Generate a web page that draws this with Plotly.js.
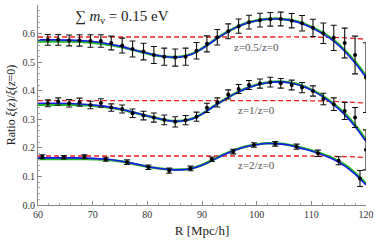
<!DOCTYPE html>
<html><head><meta charset="utf-8">
<script src="https://cdn.plot.ly/plotly-3.0.1.min.js"></script>
<style>html,body{margin:0;padding:0;background:#fff}#c{width:374px;height:244px}</style>
</head><body><div id="c"></div>
<script>
// Data points (z=0.5 and z=1 share the same R bins)
const rBins = [61.8,63.7,65.7,67.6,69.6,71.5,73.4,75.4,77.3,79.3,81.2,83.1,85.1,87.0,89.0,90.9,92.8,94.8,96.7,98.6,100.6,102.5,104.4,106.4,108.3,110.3,112.2,114.1,116.1,118.0,120.0];
const ratioZ05 = [0.578,0.578,0.576,0.576,0.574,0.574,0.567,0.558,0.546,0.537,0.525,0.519,0.516,0.519,0.540,0.564,0.587,0.608,0.626,0.640,0.647,0.650,0.651,0.645,0.636,0.620,0.601,0.585,0.567,0.525,0.446];
const errZ05 = [0.019,0.019,0.019,0.020,0.022,0.022,0.024,0.026,0.028,0.029,0.030,0.030,0.030,0.030,0.029,0.028,0.027,0.026,0.025,0.024,0.024,0.024,0.024,0.025,0.027,0.030,0.036,0.044,0.052,0.066,0.122];
const ratioZ1 = [0.356,0.362,0.356,0.360,0.350,0.357,0.341,0.336,0.321,0.313,0.306,0.298,0.291,0.297,0.309,0.340,0.359,0.387,0.406,0.420,0.425,0.430,0.426,0.420,0.411,0.399,0.371,0.353,0.329,0.306,0.193];
const errZ1 = [0.012,0.013,0.013,0.014,0.013,0.015,0.013,0.014,0.015,0.015,0.016,0.017,0.018,0.016,0.016,0.016,0.016,0.016,0.016,0.016,0.016,0.017,0.017,0.017,0.018,0.018,0.020,0.022,0.030,0.035,0.070];
const rBinsZ2 = [60.8,64.7,68.5,72.4,76.3,80.2,84.0,87.9,91.8,95.7,99.5,103.4,107.3,111.2,115.0,118.9];
const ratioZ2 = [0.169,0.167,0.169,0.160,0.150,0.132,0.120,0.128,0.160,0.187,0.210,0.214,0.204,0.181,0.155,0.093];
const errZ2 = [0.007,0.006,0.007,0.007,0.008,0.008,0.009,0.008,0.008,0.008,0.008,0.008,0.009,0.011,0.014,0.028];

// Model curves
const rModel = [60,63,66,69,72,75,78,81,84,86,88,90,92,94,96,98,100,102,104,106,108,110,112,114,116,118,120];
const blueZ05 = [0.578,0.578,0.577,0.574,0.567,0.556,0.541,0.527,0.518,0.518,0.527,0.547,0.573,0.598,0.619,0.635,0.645,0.650,0.651,0.647,0.637,0.621,0.600,0.575,0.540,0.497,0.447];
const greenZ05 = [0.572,0.572,0.572,0.570,0.564,0.554,0.540,0.526,0.518,0.519,0.528,0.548,0.574,0.599,0.620,0.636,0.646,0.651,0.652,0.648,0.639,0.623,0.603,0.578,0.544,0.502,0.452];
const blueZ1 = [0.356,0.356,0.355,0.352,0.346,0.336,0.322,0.307,0.295,0.293,0.300,0.318,0.343,0.367,0.389,0.407,0.420,0.428,0.431,0.428,0.418,0.402,0.380,0.352,0.318,0.275,0.222];
const greenZ1 = [0.351,0.351,0.351,0.349,0.344,0.335,0.321,0.307,0.295,0.294,0.301,0.319,0.344,0.368,0.390,0.408,0.421,0.429,0.432,0.429,0.420,0.404,0.383,0.355,0.322,0.280,0.227];
const blueZ2 = [0.165,0.165,0.165,0.164,0.161,0.154,0.143,0.131,0.124,0.123,0.127,0.139,0.157,0.176,0.192,0.204,0.211,0.215,0.214,0.209,0.199,0.189,0.176,0.160,0.138,0.108,0.070];
const greenZ2 = [0.161,0.161,0.161,0.161,0.159,0.153,0.142,0.131,0.124,0.124,0.128,0.140,0.158,0.177,0.193,0.205,0.212,0.216,0.215,0.210,0.201,0.191,0.179,0.163,0.142,0.112,0.075];

// Reference (dashed) lines
const rRef = [60,100,108,112,115,117,119.5];
const refZ05 = [0.588,0.588,0.588,0.587,0.586,0.584,0.581];
const refZ1 = [0.365,0.365,0.365,0.364,0.362,0.360,0.357];
const refZ2 = [0.1715,0.1715,0.1715,0.171,0.170,0.169,0.167];

const labels = ["z=0.5/z=0","z=1/z=0","z=2/z=0"];
const labelX = [100,100,100];
const labelY = [0.553,0.333,0.14];

const F = "Liberation Serif";
const traces = [];
const groups = [
  [rBins, ratioZ05, errZ05, blueZ05, greenZ05, refZ05],
  [rBins, ratioZ1, errZ1, blueZ1, greenZ1, refZ1],
  [rBinsZ2, ratioZ2, errZ2, blueZ2, greenZ2, refZ2]
];
groups.forEach(g => {
  traces.push({x: rRef, y: g[5], mode:'lines', line:{color:'#ee1c1c', width:1.3, dash:'5px,3px', shape:'spline'}, hoverinfo:'skip'});
  traces.push({x: rModel, y: g[4], mode:'lines', line:{color:'#22bb22', width:2.6, shape:'spline'}, hoverinfo:'skip'});
  traces.push({x: rModel, y: g[3], mode:'lines', line:{color:'#1a1aee', width:1.6, shape:'spline'}, hoverinfo:'skip'});
  traces.push({x: g[0], y: g[1], mode:'markers', marker:{color:'#000', size:4},
    error_y:{type:'data', array:g[2], visible:true, color:'#111', thickness:1.1, width:3}});
});

const annotations = [{
  x: 75.3, y: 1, xref:'x', yref:'paper', xanchor:'center', yanchor:'top', yshift:-1,
  text:'∑ <i>m</i><sub>ν</sub> = 0.15 eV', showarrow:false, font:{family:F, size:15, color:'#222'}
}];
labels.forEach((t,i) => annotations.push({x:labelX[i], y:labelY[i], xref:'x', yref:'y', text:t, showarrow:false, xanchor:'center', yanchor:'middle', font:{family:F, size:11, color:'#555'}}));

const layout = {
  width:374, height:244, margin:{l:38, r:8, t:5, b:39},
  paper_bgcolor:'#fff', plot_bgcolor:'#fff', showlegend:false,
  font:{family:F, size:10, color:'#333'},
  xaxis:{range:[60,120], dtick:10, tick0:60, ticks:'inside', ticklen:4, tickcolor:'#888', showgrid:false, zeroline:false,
    showline:true, linecolor:'#888', linewidth:1, mirror:false, tickfont:{family:F, size:10, color:'#333'},
    minor:{dtick:2, ticks:'inside', ticklen:2, tickcolor:'#aaa'},
    title:{text:'R [Mpc/h]', font:{family:F, size:13, color:'#222'}, standoff:6}},
  yaxis:{range:[0,0.7], dtick:0.1, tickformat:'.1f', ticks:'inside', ticklen:4, tickcolor:'#888', showgrid:false, zeroline:false,
    showline:true, linecolor:'#888', linewidth:1, tickfont:{family:F, size:10, color:'#333'},
    minor:{dtick:0.02, ticks:'inside', ticklen:2, tickcolor:'#aaa'},
    title:{text:'Ratio <i>ξ</i>(<i>z</i>)/<i>ξ</i>(<i>z</i>=0)', font:{family:F, size:12, color:'#222'}, standoff:4}},
  annotations: annotations
};
Plotly.newPlot('c', traces, layout, {staticPlot:true, displayModeBar:false});
</script></body></html>
